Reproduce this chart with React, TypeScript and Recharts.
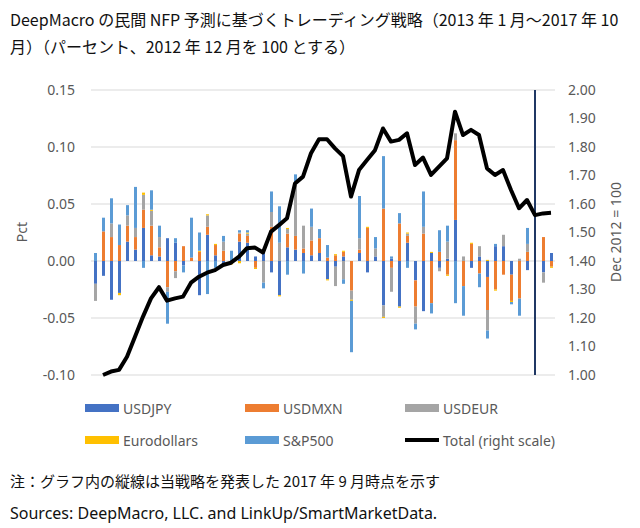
import React from 'react';
import { ComposedChart, Bar, Line, XAxis, YAxis, CartesianGrid, ReferenceLine } from 'recharts';

// Jan 2013 .. Oct 2017
const years = [2013, 2014, 2015, 2016, 2017];
const dates: string[] = [];
years.forEach((y) => {
  for (let m = 1; m <= 12; m++) {
    if (y === 2017 && m > 10) break;
    dates.push(`${y}-${String(m).padStart(2, '0')}`);
  }
});

// contributions (Pct, left scale)
const usdjpy = [
  -0.02, -0.013, -0.034, -0.028, 0.017, 0.01, 0.029, 0.005, 0.004, 0.02, 0.016, -0.004,
  0, -0.03, 0.023, 0.005, -0.003, 0, 0.017, 0.016, 0.004, 0.007, -0.01, -0.03,
  0.012, 0.01, 0.007, 0.005, 0.007, -0.016, -0.005, 0.004, 0, 0.007, -0.01, 0.004,
  -0.039, 0.002, -0.04, 0.016, -0.017, -0.044, 0.007, -0.006, 0.002, 0.036, 0, -0.006,
  0.004, -0.014, 0.013, 0.013, -0.012, 0, -0.008, 0, -0.01, 0.007,
];
const usdmxn = [
  0, 0.026, 0.021, 0.014, 0.014, 0.011, 0.016, 0.026, 0.008, -0.023, -0.009, 0.013,
  0.003, 0.008, 0.007, 0.009, 0.009, -0.002, 0.007, 0.006, -0.006, 0, 0.03, 0,
  0.012, 0.012, 0.004, 0.013, 0.013, 0.003, 0.005, 0.004, -0.026, 0.003, 0.029, 0,
  0.046, -0.006, 0.033, 0.006, -0.023, 0.024, -0.037, 0.008, -0.012, 0.07, -0.022, 0.015,
  -0.011, -0.029, -0.025, -0.012, -0.023, -0.033, 0.008, 0, 0.021, -0.005,
];
const usdeur = [
  -0.015, 0, 0.012, 0, 0.009, 0.008, 0.013, 0.013, 0.009, -0.004, -0.006, 0,
  0, 0, 0.01, 0, 0.008, 0, 0.001, 0.002, 0, -0.019, 0.013, 0.016,
  0.004, 0.047, 0.02, 0.012, 0, 0, -0.017, -0.016, -0.008, 0.01, 0, 0.007,
  -0.01, -0.021, 0, 0.002, -0.015, 0.006, 0, -0.003, 0.015, 0.006, 0.004, 0,
  0.009, -0.018, 0, 0.01, 0, 0.002, 0.007, 0, -0.009, 0,
];
const eurodollars = [
  0, 0, 0, -0.002, 0, 0, 0.002, 0.001, 0, 0, 0, 0,
  0, 0.001, 0.001, 0.001, 0, -0.001, -0.002, 0.001, -0.001, 0, 0, -0.001,
  0.001, 0, 0, 0, 0, -0.001, 0.001, 0.001, -0.001, 0, 0.001, 0,
  -0.001, 0, -0.001, 0.001, 0, 0, 0.001, 0, -0.001, 0, 0, 0.001,
  0, 0.001, -0.001, 0, -0.001, 0, 0, 0, 0, -0.001,
];
const sp500 = [
  0.007, 0.012, 0.022, 0.018, 0.009, 0.036, -0.006, 0.017, 0.01, -0.028, 0.004, -0.006,
  0.035, 0.016, -0.029, -0.006, 0.005, 0.009, 0.002, 0.002, 0, -0.005, 0.018, 0.032,
  -0.012, 0.007, -0.011, 0.016, 0.008, 0.011, 0, -0.004, -0.045, 0.037, 0, 0.01,
  0.046, 0.002, 0.009, -0.006, -0.005, 0.031, -0.009, 0.019, 0.014, -0.037, -0.026, 0,
  -0.012, -0.007, 0.002, 0, -0.002, -0.015, 0.014, 0, 0, 0,
];

// Total, Dec 2012 = 1.00 (right scale)
const total = [
  null, 1.0, 1.012, 1.018, 1.064, 1.134, 1.205, 1.269, 1.308, 1.261, 1.269, 1.275,
  1.324, 1.345, 1.359, 1.368, 1.386, 1.394, 1.415, 1.445, 1.447, 1.43, 1.503, 1.526,
  1.55, 1.672, 1.696, 1.778, 1.827, 1.827, 1.795, 1.768, 1.626, 1.719, 1.754, 1.789,
  1.865, 1.819, 1.825, 1.848, 1.737, 1.763, 1.702, 1.731, 1.76, 1.924, 1.842, 1.86,
  1.842, 1.725, 1.702, 1.719, 1.649, 1.585, 1.614, 1.561, 1.567, 1.569,
];

const leftTicks = [-0.1, -0.05, 0, 0.05, 0.1, 0.15];
const rightTicks = [1.0, 1.1, 1.2, 1.3, 1.4, 1.5, 1.6, 1.7, 1.8, 1.9, 2.0];
const markerDate = dates[55];

const series = [
  { key: 'USDJPY', color: '#4472C4' },
  { key: 'USDMXN', color: '#ED7D31' },
  { key: 'USDEUR', color: '#A5A5A5' },
  { key: 'Eurodollars', color: '#FFC000' },
  { key: 'S&P500', color: '#5B9BD5' },
];

const data = dates.map((d, i) => ({
  date: d,
  USDJPY: usdjpy[i],
  USDMXN: usdmxn[i],
  USDEUR: usdeur[i],
  Eurodollars: eurodollars[i],
  'S&P500': sp500[i],
  total: total[i],
}));

const axisFont = '"Noto Sans", "DejaVu Sans", sans-serif';
const jpFont = '"Noto Sans CJK JP", "Noto Sans", sans-serif';
const grey = '#595959';

const tickStyle = { fontSize: 14, fill: grey, fontFamily: axisFont };

function LegendRow({ items, top }: { items: { label: string; color: string; line?: boolean }[]; top: number }) {
  const cols = [85, 245, 405];
  return (
    <>
      {items.map((it, i) => (
        <div key={it.label} style={{ position: 'absolute', left: cols[i], top, height: 20, display: 'flex', alignItems: 'center' }}>
          <span
            style={{
              display: 'inline-block',
              width: 34,
              height: it.line ? 4 : 8,
              background: it.color,
              marginRight: 4,
            }}
          />
          <span style={{ fontSize: 14, color: grey, fontFamily: axisFont }}>{it.label}</span>
        </div>
      ))}
    </>
  );
}

export default function App() {
  return (
    <div style={{ position: 'absolute', left: 0, top: 0, width: 640, height: 528, background: '#fff', overflow: 'hidden' }}>
      <div style={{ position: 'absolute', left: 10, top: 6, fontFamily: jpFont, fontSize: 16, lineHeight: '27px', color: '#111', whiteSpace: 'nowrap' }}>
        <div>DeepMacro の民間 NFP 予測に基づくトレーディング戦略（2013 年 1 月～2017 年 10</div>
        <div>月）（パーセント、2012 年 12 月を 100 とする）</div>
      </div>

      <div style={{ position: 'absolute', left: 0, top: 0 }}>
        <ComposedChart
          width={640}
          height={395}
          data={data}
          stackOffset="sign"
          barSize={3}
          margin={{ top: 90, right: 0, bottom: 20, left: 0 }}
        >
          <CartesianGrid yAxisId="left" vertical={false} stroke="#D9D9D9" strokeWidth={1} />
          <XAxis
            dataKey="date"
            height={0}
            tick={false}
            axisLine={false}
            tickLine={false}
            label={{
              content: () => (
                <text x={77} y={287} fontSize={14} fill="#7F7F7F" fontFamily={axisFont}>
                  dates
                </text>
              ),
            }}
          />
          <YAxis
            yAxisId="left"
            orientation="left"
            width={91}
            domain={[-0.1, 0.15]}
            ticks={leftTicks}
            tickFormatter={(v: number) => v.toFixed(2)}
            axisLine={false}
            tickLine={false}
            tickSize={0}
            tickMargin={16}
            tick={tickStyle}
            label={{
              content: () => (
                <text x={27} y={232} transform="rotate(-90 27 232)" textAnchor="middle" fontSize={14} fill={grey} fontFamily={axisFont}>
                  Pct
                </text>
              ),
            }}
          />
          <YAxis
            yAxisId="right"
            orientation="right"
            width={85}
            domain={[1, 2]}
            ticks={rightTicks}
            tickFormatter={(v: number) => v.toFixed(2)}
            axisLine={false}
            tickLine={false}
            tickSize={0}
            tickMargin={13}
            tick={{ ...tickStyle, textAnchor: 'start' }}
            label={{
              content: () => (
                <text x={621} y={232} transform="rotate(-90 621 232)" textAnchor="middle" fontSize={14} fill={grey} fontFamily={axisFont}>
                  Dec 2012 = 100
                </text>
              ),
            }}
          />
          {series.map((s) => (
            <Bar key={s.key} yAxisId="left" dataKey={s.key} stackId="a" fill={s.color} isAnimationActive={false} />
          ))}
          <ReferenceLine yAxisId="left" x={markerDate} stroke="#203864" strokeWidth={2} />
          <Line
            yAxisId="right"
            dataKey="total"
            stroke="#000"
            strokeWidth={4}
            dot={false}
            strokeLinejoin="round"
            isAnimationActive={false}
          />
        </ComposedChart>
      </div>

      <LegendRow
        top={398}
        items={[
          { label: 'USDJPY', color: series[0].color },
          { label: 'USDMXN', color: series[1].color },
          { label: 'USDEUR', color: series[2].color },
        ]}
      />
      <LegendRow
        top={430}
        items={[
          { label: 'Eurodollars', color: series[3].color },
          { label: 'S&P500', color: series[4].color },
          { label: 'Total (right scale)', color: '#000', line: true },
        ]}
      />

      <div style={{ position: 'absolute', left: 10, top: 470, fontFamily: jpFont, fontSize: 15, color: '#111', whiteSpace: 'nowrap' }}>
        注：グラフ内の縦線は当戦略を発表した 2017 年 9 月時点を示す
      </div>
      <div style={{ position: 'absolute', left: 10, top: 502, fontFamily: axisFont, fontSize: 16, color: '#111', whiteSpace: 'nowrap' }}>
        Sources: DeepMacro, LLC. and LinkUp/SmartMarketData.
      </div>
    </div>
  );
}
